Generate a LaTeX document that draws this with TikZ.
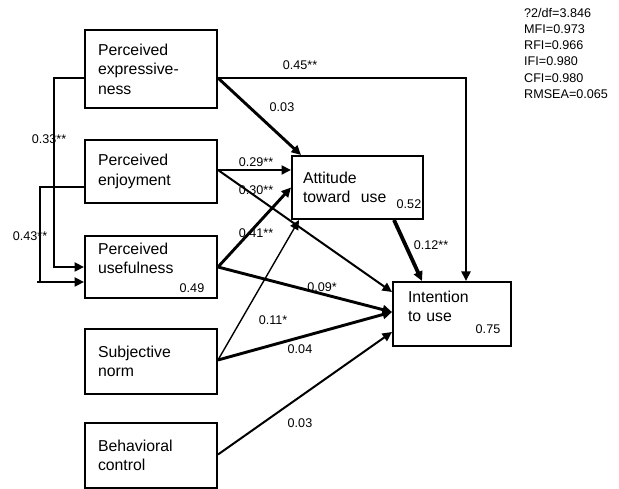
\documentclass[tikz,border=0pt]{standalone}
\usepackage{fontspec}
\setmainfont{Liberation Sans}
\usetikzlibrary{arrows.meta,calc}

\tikzset{
  box/.style={draw, line width=2pt, inner ysep=0pt, align=left,
              font=\fontsize{15.8}{19.5}\selectfont},
  leftbox/.style={box, minimum width=132pt, text width=106pt, inner xsep=13pt},
  coef/.style={font=\fontsize{12.6}{15}\selectfont, inner sep=0pt},
  tip/.style={-{Triangle[length=9.5pt,width=9pt]}},
  pthin/.style={line width=1.4pt},
  pmid/.style={line width=2pt},
  pthick/.style={line width=2.9pt},
  pheavy/.style={line width=3.8pt},
}

\begin{document}
\begin{tikzpicture}[x=1pt,y=-1pt]
\useasboundingbox (0,0) rectangle (619,489);

% constructs
\node[leftbox, minimum height=78pt] (pe) at (151,69)    {Perceived\\expressive-\\ness};
\node[leftbox, minimum height=63pt] (pj) at (151,171.5) {Perceived\\enjoyment};
\node[leftbox, minimum height=62pt] (pu) at (151,267)   {Perceived\\usefulness\\[-2pt]\mbox{}};
\node[leftbox, minimum height=65pt] (sn) at (151,361.5) {Subjective\\norm};
\node[leftbox, minimum height=65pt] (bc) at (151,455.5) {Behavioral\\control};
\node[box, minimum width=131pt, text width=109pt, inner xsep=11pt, minimum height=63pt]
  (at) at (357.5,187.5) {Attitude\\toward\ \ use};
\node[box, minimum width=118pt, text width=88pt, inner xsep=15pt, minimum height=64pt]
  (it) at (452,314) {Intention\\to use\\[-4pt]\mbox{}};

% explained variance
\node[coef] (r2u) at (192,288) {0.49};
\node[coef] (r2a) at (409,204) {0.52};
\node[coef] (r2i) at (488,329) {0.75};

% paths from perceived expressiveness
\draw[pmid, tip] ([yshift=-9pt]pe.east) -| ([xshift=74pt]it.north west);
\draw[pthick, tip] ([yshift=-9pt]pe.east) -- ([xshift=10pt]at.north west);
\draw[pmid] ([yshift=-9pt]pe.west) -| ([xshift=-30pt]pu.west);
\draw[pthick, tip] ([xshift=-31pt]pu.west) -- (pu.west);

% paths from perceived enjoyment
\draw[pmid] ([yshift=-16pt]pj.west) -| ([xshift=-44pt,yshift=-15pt]pu.west);
\draw[pthick, tip] ([xshift=-47pt,yshift=-15pt]pu.west) -- ([yshift=-15pt]pu.west);
\draw[pmid, tip] ([yshift=1.5pt]pj.east) -- ([yshift=1.5pt]pj.east -| at.west);
\draw[pmid, tip] ([yshift=1.5pt]pj.east) -- ([yshift=22pt]it.west);

% paths from perceived usefulness
\draw[pthick, tip] (pu.east) -- (at.west);
\draw[pthick, tip] (pu.east) -- ([yshift=2pt]it.west);

% paths from subjective norm
\draw[pthin, tip] ([yshift=1.5pt]sn.east) -- ([xshift=8pt]at.south west);
\draw[pthick, tip] ([yshift=1.5pt]sn.east) -- ([yshift=2pt]it.west);

% path from behavioral control
\draw[pmid, tip] ([yshift=1pt]bc.east) -- ([yshift=-18pt]it.west);

% attitude to intention
\draw[pheavy, tip] ([xshift=103pt]at.south west) -- ([xshift=30pt]it.north west);

% path coefficients
\node[coef] (c1)  at (300,65)  {0.45**};
\node[coef] (c2)  at (282,107) {0.03};
\node[coef] (c3)  at (49,139)  {0.33**};
\node[coef] (c4)  at (30,236)  {0.43**};
\node[coef] (c5)  at (256,162) {0.29**};
\node[coef] (c6)  at (256,190) {0.30**};
\node[coef] (c7)  at (256,233) {0.41**};
\node[coef] (c8)  at (322,287) {0.09*};
\node[coef] (c9)  at (273,320) {0.11*};
\node[coef] (c10) at (300,349) {0.04};
\node[coef] (c11) at (300,423) {0.03};
\node[coef] (c12) at (431,245) {0.12**};

% fit indices
\node[anchor=north west, align=left, inner sep=0pt,
      font=\fontsize{12.6}{16.2}\selectfont] (fit) at (524,8)
  {?2/df=3.846\\MFI=0.973\\RFI=0.966\\IFI=0.980\\CFI=0.980\\RMSEA=0.065};
\end{tikzpicture}
\end{document}
